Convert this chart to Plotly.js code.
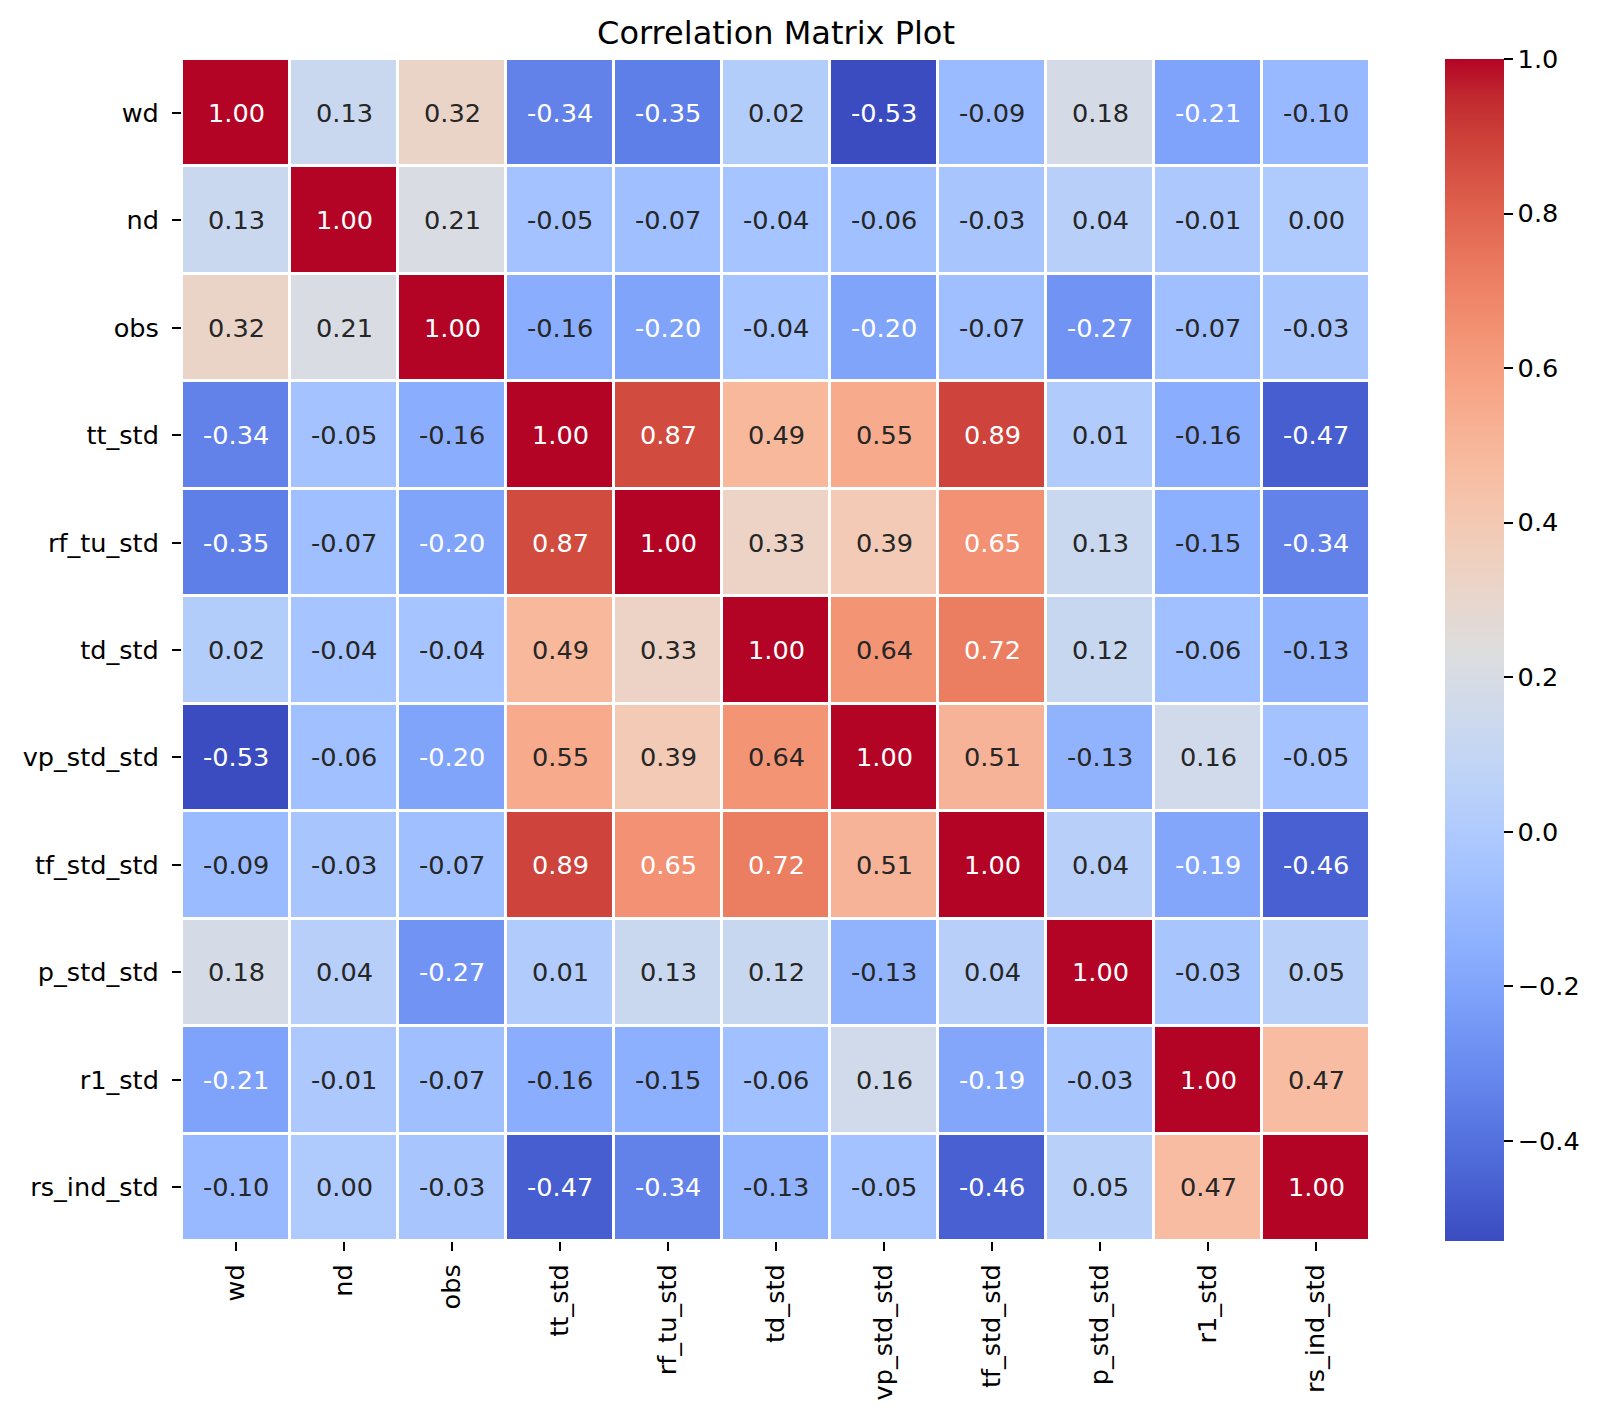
<!DOCTYPE html>
<html>
<head>
<meta charset="utf-8">
<script src="https://cdn.plot.ly/plotly-3.0.1.min.js"></script>
<style>html,body{margin:0;padding:0;background:#fff;}#chart{width:1606px;height:1421px;}</style>
</head>
<body>
<div id="chart"></div>
<script>
const labels = ["wd","nd","obs","tt_std","rf_tu_std","td_std","vp_std_std","tf_std_std","p_std_std","r1_std","rs_ind_std"];

const row_wd         = [1.00, 0.13, 0.32, -0.34, -0.35, 0.02, -0.53, -0.09, 0.18, -0.21, -0.10];
const row_nd         = [0.13, 1.00, 0.21, -0.05, -0.07, -0.04, -0.06, -0.03, 0.04, -0.01, 0.00];
const row_obs        = [0.32, 0.21, 1.00, -0.16, -0.20, -0.04, -0.20, -0.07, -0.27, -0.07, -0.03];
const row_tt_std     = [-0.34, -0.05, -0.16, 1.00, 0.87, 0.49, 0.55, 0.89, 0.01, -0.16, -0.47];
const row_rf_tu_std  = [-0.35, -0.07, -0.20, 0.87, 1.00, 0.33, 0.39, 0.65, 0.13, -0.15, -0.34];
const row_td_std     = [0.02, -0.04, -0.04, 0.49, 0.33, 1.00, 0.64, 0.72, 0.12, -0.06, -0.13];
const row_vp_std_std = [-0.53, -0.06, -0.20, 0.55, 0.39, 0.64, 1.00, 0.51, -0.13, 0.16, -0.05];
const row_tf_std_std = [-0.09, -0.03, -0.07, 0.89, 0.65, 0.72, 0.51, 1.00, 0.04, -0.19, -0.46];
const row_p_std_std  = [0.18, 0.04, -0.27, 0.01, 0.13, 0.12, -0.13, 0.04, 1.00, -0.03, 0.05];
const row_r1_std     = [-0.21, -0.01, -0.07, -0.16, -0.15, -0.06, 0.16, -0.19, -0.03, 1.00, 0.47];
const row_rs_ind_std = [-0.10, 0.00, -0.03, -0.47, -0.34, -0.13, -0.05, -0.46, 0.05, 0.47, 1.00];

const z = [row_wd,row_nd,row_obs,row_tt_std,row_rf_tu_std,row_td_std,row_vp_std_std,row_tf_std_std,row_p_std_std,row_r1_std,row_rs_ind_std];

const colorbarTicks = [-0.4,-0.2,0.0,0.2,0.4,0.6,0.8,1.0];

// coolwarm colormap (Moreland)
const cw = [
[59,76,192],[68,90,204],[77,104,215],[87,117,225],[98,130,234],[108,142,241],[119,154,247],[130,165,251],
[141,176,254],[152,185,255],[163,194,255],[174,201,253],[184,208,249],[194,213,244],[204,217,238],[213,219,230],
[221,221,221],[229,216,209],[236,211,197],[241,204,184],[245,196,172],[247,187,160],[247,177,148],[247,166,135],
[244,154,123],[241,141,111],[236,127,99],[229,112,88],[222,96,77],[213,80,66],[203,62,56],[192,40,47],[180,4,38]];
const colorscale = cw.map((c,i)=>[i/(cw.length-1), `rgb(${c[0]},${c[1]},${c[2]})`]);

let zmin = Infinity, zmax = -Infinity;
z.forEach(r=>r.forEach(v=>{zmin=Math.min(zmin,v);zmax=Math.max(zmax,v);}));

function colorAt(v){
  let t=(v-zmin)/(zmax-zmin); t=Math.max(0,Math.min(1,t));
  const p=t*(cw.length-1); const i=Math.min(Math.floor(p),cw.length-2); const f=p-i;
  return [0,1,2].map(k=>cw[i][k]+(cw[i+1][k]-cw[i][k])*f);
}
function lum(rgb){
  const l=rgb.map(c=>{c/=255; return c<=0.03928?c/12.92:Math.pow((c+0.055)/1.055,2.4);});
  return 0.2126*l[0]+0.7152*l[1]+0.0722*l[2];
}

const FS = 25.6;
const annotations=[];
z.forEach((r,i)=>r.forEach((v,j)=>{
  annotations.push({x:labels[j],y:labels[i],xref:'x',yref:'y',text:v.toFixed(2),showarrow:false,
    font:{family:'DejaVu Sans',size:FS,color: lum(colorAt(v))>0.408?'#262626':'#ffffff'}});
}));

const trace={type:'heatmap',z:z,x:labels,y:labels,colorscale:colorscale,zmin:zmin,zmax:zmax,
  xgap:3,ygap:3,hoverinfo:'none',
  colorbar:{x:1.063,xanchor:'left',xref:'paper',y:0.5,yanchor:'middle',len:1,lenmode:'fraction',
    thickness:59,thicknessmode:'pixels',outlinewidth:0,tickvals:colorbarTicks,tickformat:'.1f',
    ticks:'outside',ticklen:9,tickwidth:2,tickcolor:'#000',
    tickfont:{family:'DejaVu Sans',size:FS,color:'#000'},xpad:0,ypad:0}
};

const layout={width:1606,height:1421,paper_bgcolor:'#fff',plot_bgcolor:'#fff',
  margin:{l:182,r:236,t:59,b:180,pad:0},
  font:{family:'DejaVu Sans',color:'#000'},
  title:{text:'Correlation Matrix Plot',font:{family:'DejaVu Sans',size:32,color:'#000'},
    x:0.4832,xref:'container',xanchor:'center',y:1-33/1421,yref:'container',yanchor:'middle'},
  xaxis:{type:'category',tickangle:-90,ticks:'outside',ticklen:9,tickwidth:2,tickcolor:'#000',ticklabelstandoff:3,
    tickfont:{family:'DejaVu Sans',size:FS,color:'#000'},showgrid:false,zeroline:false,showline:false,fixedrange:true},
  yaxis:{type:'category',autorange:'reversed',ticks:'outside',ticklen:9,tickwidth:2,tickcolor:'#000',ticklabelstandoff:8,
    tickfont:{family:'DejaVu Sans',size:FS,color:'#000'},showgrid:false,zeroline:false,showline:false,fixedrange:true},
  annotations:annotations
};

Plotly.newPlot('chart',[trace],layout,{displayModeBar:false,staticPlot:true});
</script>
</body>
</html>
